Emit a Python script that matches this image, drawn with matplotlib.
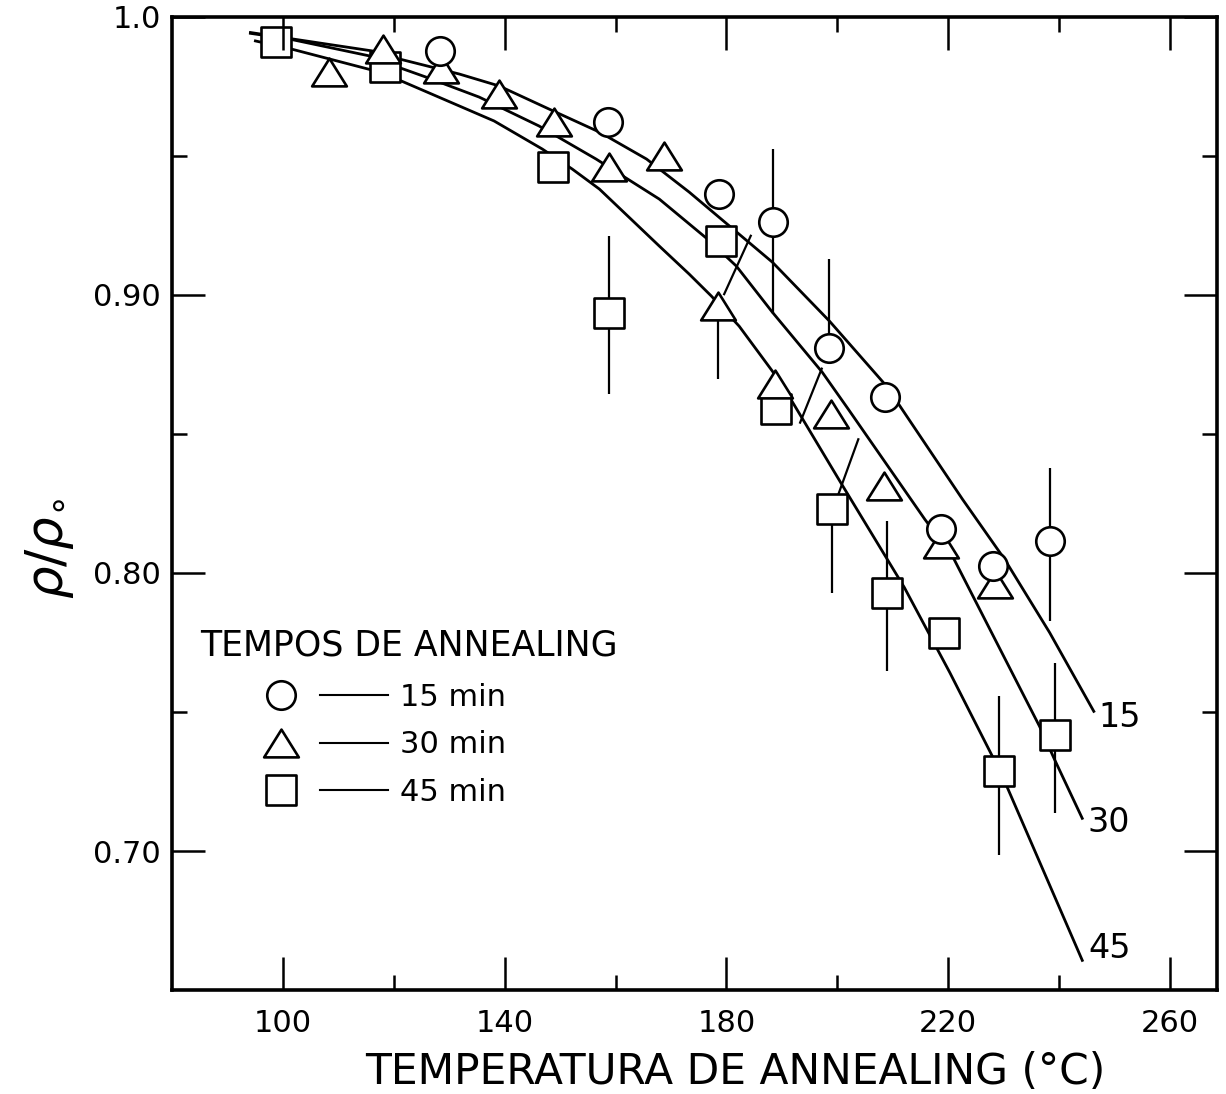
import numpy as np
import matplotlib
matplotlib.use("Agg")
import matplotlib.pyplot as plt
from matplotlib.lines import Line2D
from matplotlib.path import Path
from matplotlib.markers import MarkerStyle
from matplotlib.legend_handler import HandlerTuple

nan = np.nan

# ---------------- data ----------------
# 15 min (circles)
temp_15 = [128.4, 158.6, 178.6, 188.4, 198.5, 208.6, 218.7, 228.1, 238.3]
rho_15 = [0.9879, 0.9621, 0.9363, 0.9261, 0.8811, 0.8632, 0.8157, 0.8025, 0.8115]
err_lo_15 = [nan, nan, nan, 0.8931, nan, nan, nan, nan, 0.7827]
err_hi_15 = [nan, nan, nan, 0.9525, 0.9129, nan, nan, nan, 0.8379]

# 30 min (triangles)
temp_30 = [108.3, 118.1, 128.5, 138.9, 148.9, 158.9, 168.7, 178.4, 188.7,
           198.8, 208.5, 218.7, 228.4]
rho_30 = [0.9801, 0.9885, 0.9813, 0.9723, 0.9621, 0.9459, 0.9501, 0.8961,
          0.8679, 0.8571, 0.8313, 0.8103, 0.7959]
err_lo_30 = [nan, nan, nan, nan, nan, nan, nan, 0.8697, nan, nan, nan, nan, nan]
err_hi_30 = [nan] * 13

# 45 min (squares)
temp_45 = [98.7, 118.5, 148.8, 158.9, 179.0, 189.0, 199.1, 208.9, 219.3, 229.2, 239.2]
rho_45 = [0.9909, 0.9819, 0.9459, 0.8937, 0.9195, 0.8589, 0.8229, 0.7929,
          0.7785, 0.7287, 0.7419]
err_lo_45 = [nan, nan, nan, 0.8643, nan, nan, 0.7929, 0.7647, nan, 0.6987, 0.7137]
err_hi_45 = [nan, nan, nan, 0.9213, nan, nan, nan, 0.8187, nan, 0.7557, 0.7677]

# slanted (hand-drawn) error strokes: start / end
slant_t0 = [179.6, 197.2, 200.2]
slant_r0 = [0.9003, 0.8735, 0.8283]
slant_t1 = [184.4, 193.3, 203.8]
slant_r1 = [0.9213, 0.8541, 0.8481]

# fitted curves (traced)
fit_t_15 = [93.9, 101.1, 116.1, 121.0, 131.8, 139.0, 148.0, 157.1, 165.6, 173.3,
            188.3, 198.6, 208.9, 222.6, 230.2, 238.3, 246.4]
fit_r_15 = [0.9945, 0.9923, 0.9878, 0.9849, 0.9795, 0.9752, 0.9669, 0.9586, 0.9489,
            0.9370, 0.9118, 0.8906, 0.8672, 0.8265, 0.8049, 0.7786, 0.7498]

fit_t_30 = [93.9, 101.1, 116.1, 121.0, 125.8, 135.4, 146.2, 156.5, 167.9, 176.6,
            181.8, 188.3, 197.3, 202.0, 215.8, 220.8, 236.5, 239.2, 244.3]
fit_r_30 = [0.9942, 0.9921, 0.9858, 0.9818, 0.9784, 0.9712, 0.9608, 0.9489, 0.9345,
            0.9201, 0.9104, 0.8938, 0.8722, 0.8589, 0.8193, 0.8060, 0.7448, 0.7329, 0.7113]

fit_t_45 = [94.8, 101.1, 116.1, 121.0, 138.1, 146.8, 152.2, 157.1, 167.9, 173.3,
            177.3, 182.3, 188.3, 191.2, 200.6, 212.1, 220.3, 228.0, 230.6, 244.3]
fit_r_45 = [0.9915, 0.9887, 0.9809, 0.9773, 0.9626, 0.9525, 0.9453, 0.9381, 0.9176,
            0.9075, 0.8996, 0.8888, 0.8726, 0.8639, 0.8326, 0.7948, 0.7642, 0.7340,
            0.7232, 0.6602]

x_major = [100, 140, 180, 220, 260]
x_minor = [120, 160, 200, 240]
y_major = [0.70, 0.80, 0.90, 1.0]
y_major_labels = ["0.70", "0.80", "0.90", "1.0"]
y_minor = [0.75, 0.85, 0.95]

curve_labels = ["15", "30", "45"]
legend_labels = ["15 min", "30 min", "45 min"]
legend_title = "TEMPOS DE ANNEALING"
x_label = "TEMPERATURA DE ANNEALING (°C)"
y_label = r"$\rho/\rho_{\circ}$"

# ---------------- drawing ----------------
plt.rcParams['font.family'] = ['DejaVu Sans']
plt.rcParams['mathtext.fontset'] = 'dejavusans'

W, H = 1226, 1094
fig = plt.figure(figsize=(W / 100, H / 100), dpi=100)
ax = fig.add_axes([172 / W, 1 - 990 / H, 1045 / W, 973 / H])
ax.set_xlim(80, 268.5)
ax.set_ylim(0.65, 1.0)

tri_path = Path([(-1.0, -0.8), (1.0, -0.8), (0.0, 0.8), (-1.0, -0.8)],
                [Path.MOVETO, Path.LINETO, Path.LINETO, Path.CLOSEPOLY])
styles = {
    "15": dict(marker=MarkerStyle("o", joinstyle="round"), ms=20.5),
    "30": dict(marker=MarkerStyle(tri_path, joinstyle="round"), ms=25),
    "45": dict(marker=MarkerStyle("s", joinstyle="round"), ms=21),
}
mk_common = dict(ls="none", mfc="white", mec="black", mew=1.9)

# curves
for ft, fr in [(fit_t_15, fit_r_15), (fit_t_30, fit_r_30), (fit_t_45, fit_r_45)]:
    ax.plot(ft, fr, color="black", lw=2.0, zorder=2, solid_joinstyle="round",
            solid_capstyle="butt")

# error bars
def draw_err(t, r, lo, hi):
    for ti, ri, l, h in zip(t, r, lo, hi):
        l = ri if np.isnan(l) else l
        h = ri if np.isnan(h) else h
        if h > l:
            ax.vlines(ti, l, h, color="black", lw=1.6, zorder=1.9)

draw_err(temp_15, rho_15, err_lo_15, err_hi_15)
draw_err(temp_30, rho_30, err_lo_30, err_hi_30)
draw_err(temp_45, rho_45, err_lo_45, err_hi_45)

for a0, b0, a1, b1 in zip(slant_t0, slant_r0, slant_t1, slant_r1):
    ax.plot([a0, a1], [b0, b1], color="black", lw=1.6, zorder=1.9)

# markers
for key, t, r in [("45", temp_45, rho_45), ("30", temp_30, rho_30), ("15", temp_15, rho_15)]:
    ax.plot(t, r, zorder=2.3, **styles[key], **mk_common)

# curve labels
for lbl, (tx, ty) in zip(curve_labels, [(251.0, 0.7482), (249.0, 0.7101), (249.2, 0.6651)]):
    ax.text(tx, ty, lbl, fontsize=24, ha="center", va="center")

# ticks
ax.set_xticks(x_major)
ax.set_xticks(x_minor, minor=True)
ax.set_xticklabels([str(v) for v in x_major])
ax.set_yticks(y_major)
ax.set_yticks(y_minor, minor=True)
ax.set_yticklabels(y_major_labels)
ax.tick_params(which="both", direction="in", top=True, right=True, width=1.8)
ax.tick_params(which="major", length=24, labelsize=22)
ax.tick_params(axis="x", which="major", pad=14)
ax.tick_params(axis="y", which="major", pad=8)
ax.tick_params(which="minor", length=11)
ax.set_axisbelow(False)
for s in ax.spines.values():
    s.set_linewidth(2.6)

# axis labels
ax.set_xlabel(x_label, fontsize=30.5)
ax.xaxis.label.set_va("center")
ax.xaxis.set_label_coords((735 - 172) / 1045, -(1072 - 990) / 973)
ax.set_ylabel(y_label, fontsize=37, rotation=90)
ax.yaxis.label.set_va("center")
ax.yaxis.set_label_coords((50 - 172) / 1045, 1 - (548 - 17) / 973)

# legend
ax.text((200 - 172) / 1045, 1 - (646 - 17) / 973, legend_title, transform=ax.transAxes,
        fontsize=25, ha="left", va="center")
handles = []
for key in ["15", "30", "45"]:
    m = Line2D([], [], **styles[key], **mk_common)
    ln = Line2D([], [], color="black", lw=1.5)
    handles.append((m, ln))
leg = ax.legend(handles, legend_labels, handler_map={tuple: HandlerTuple(ndivide=None, pad=0.16)},
                loc="upper left", bbox_to_anchor=((247 - 172) / 1045, 1 - (683 - 17) / 973),
                frameon=False, borderpad=0, fontsize=22, handlelength=4.6,
                handletextpad=0.4, labelspacing=0.6, borderaxespad=0)

fig.savefig("out.png", dpi=100)
